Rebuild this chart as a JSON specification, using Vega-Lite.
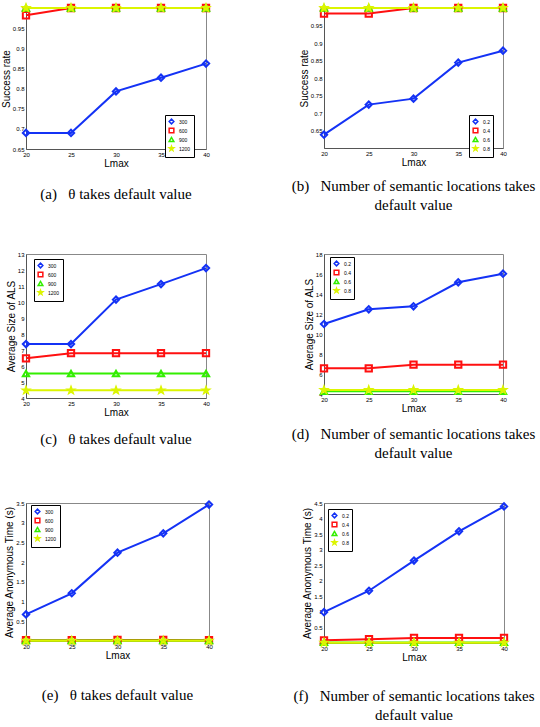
{
  "$schema": "https://vega.github.io/schema/vega-lite/v6.json",
  "background": "white",
  "padding": {"left": 0, "top": 0, "right": 2, "bottom": 2},
  "datasets": {
    "a": [
      {"Lmax": 20, "v": 0.69, "s": "300"}, {"Lmax": 25, "v": 0.69, "s": "300"}, {"Lmax": 30, "v": 0.793, "s": "300"}, {"Lmax": 35, "v": 0.827, "s": "300"}, {"Lmax": 40, "v": 0.862, "s": "300"},
      {"Lmax": 20, "v": 0.982, "s": "600"}, {"Lmax": 25, "v": 1, "s": "600"}, {"Lmax": 30, "v": 1, "s": "600"}, {"Lmax": 35, "v": 1, "s": "600"}, {"Lmax": 40, "v": 1, "s": "600"},
      {"Lmax": 20, "v": 1, "s": "900"}, {"Lmax": 25, "v": 1, "s": "900"}, {"Lmax": 30, "v": 1, "s": "900"}, {"Lmax": 35, "v": 1, "s": "900"}, {"Lmax": 40, "v": 1, "s": "900"},
      {"Lmax": 20, "v": 1, "s": "1200"}, {"Lmax": 25, "v": 1, "s": "1200"}, {"Lmax": 30, "v": 1, "s": "1200"}, {"Lmax": 35, "v": 1, "s": "1200"}, {"Lmax": 40, "v": 1, "s": "1200"}
    ],
    "b": [
      {"Lmax": 20, "v": 0.638, "s": "0.2"}, {"Lmax": 25, "v": 0.724, "s": "0.2"}, {"Lmax": 30, "v": 0.741, "s": "0.2"}, {"Lmax": 35, "v": 0.844, "s": "0.2"}, {"Lmax": 40, "v": 0.878, "s": "0.2"},
      {"Lmax": 20, "v": 0.984, "s": "0.4"}, {"Lmax": 25, "v": 0.984, "s": "0.4"}, {"Lmax": 30, "v": 1, "s": "0.4"}, {"Lmax": 35, "v": 1, "s": "0.4"}, {"Lmax": 40, "v": 1, "s": "0.4"},
      {"Lmax": 20, "v": 1, "s": "0.6"}, {"Lmax": 25, "v": 1, "s": "0.6"}, {"Lmax": 30, "v": 1, "s": "0.6"}, {"Lmax": 35, "v": 1, "s": "0.6"}, {"Lmax": 40, "v": 1, "s": "0.6"},
      {"Lmax": 20, "v": 1, "s": "0.8"}, {"Lmax": 25, "v": 1, "s": "0.8"}, {"Lmax": 30, "v": 1, "s": "0.8"}, {"Lmax": 35, "v": 1, "s": "0.8"}, {"Lmax": 40, "v": 1, "s": "0.8"}
    ],
    "c": [
      {"Lmax": 20, "v": 7.37, "s": "300"}, {"Lmax": 25, "v": 7.37, "s": "300"}, {"Lmax": 30, "v": 10.15, "s": "300"}, {"Lmax": 35, "v": 11.12, "s": "300"}, {"Lmax": 40, "v": 12.12, "s": "300"},
      {"Lmax": 20, "v": 6.48, "s": "600"}, {"Lmax": 25, "v": 6.8, "s": "600"}, {"Lmax": 30, "v": 6.8, "s": "600"}, {"Lmax": 35, "v": 6.8, "s": "600"}, {"Lmax": 40, "v": 6.8, "s": "600"},
      {"Lmax": 20, "v": 5.53, "s": "900"}, {"Lmax": 25, "v": 5.53, "s": "900"}, {"Lmax": 30, "v": 5.53, "s": "900"}, {"Lmax": 35, "v": 5.53, "s": "900"}, {"Lmax": 40, "v": 5.53, "s": "900"},
      {"Lmax": 20, "v": 4.48, "s": "1200"}, {"Lmax": 25, "v": 4.48, "s": "1200"}, {"Lmax": 30, "v": 4.48, "s": "1200"}, {"Lmax": 35, "v": 4.48, "s": "1200"}, {"Lmax": 40, "v": 4.48, "s": "1200"}
    ],
    "d": [
      {"Lmax": 20, "v": 11.0, "s": "0.2"}, {"Lmax": 25, "v": 12.47, "s": "0.2"}, {"Lmax": 30, "v": 12.77, "s": "0.2"}, {"Lmax": 35, "v": 15.17, "s": "0.2"}, {"Lmax": 40, "v": 16.03, "s": "0.2"},
      {"Lmax": 20, "v": 6.57, "s": "0.4"}, {"Lmax": 25, "v": 6.57, "s": "0.4"}, {"Lmax": 30, "v": 6.93, "s": "0.4"}, {"Lmax": 35, "v": 6.93, "s": "0.4"}, {"Lmax": 40, "v": 6.93, "s": "0.4"},
      {"Lmax": 20, "v": 4.27, "s": "0.6"}, {"Lmax": 25, "v": 4.27, "s": "0.6"}, {"Lmax": 30, "v": 4.27, "s": "0.6"}, {"Lmax": 35, "v": 4.27, "s": "0.6"}, {"Lmax": 40, "v": 4.27, "s": "0.6"},
      {"Lmax": 20, "v": 4.4, "s": "0.8"}, {"Lmax": 25, "v": 4.4, "s": "0.8"}, {"Lmax": 30, "v": 4.4, "s": "0.8"}, {"Lmax": 35, "v": 4.4, "s": "0.8"}, {"Lmax": 40, "v": 4.4, "s": "0.8"}
    ],
    "e": [
      {"Lmax": 20, "v": 0.675, "s": "300"}, {"Lmax": 25, "v": 1.21, "s": "300"}, {"Lmax": 30, "v": 2.24, "s": "300"}, {"Lmax": 35, "v": 2.73, "s": "300"}, {"Lmax": 40, "v": 3.46, "s": "300"},
      {"Lmax": 20, "v": 0.02, "s": "600"}, {"Lmax": 25, "v": 0.02, "s": "600"}, {"Lmax": 30, "v": 0.025, "s": "600"}, {"Lmax": 35, "v": 0.025, "s": "600"}, {"Lmax": 40, "v": 0.02, "s": "600"},
      {"Lmax": 20, "v": 0.01, "s": "900"}, {"Lmax": 25, "v": 0.01, "s": "900"}, {"Lmax": 30, "v": 0.01, "s": "900"}, {"Lmax": 35, "v": 0.01, "s": "900"}, {"Lmax": 40, "v": 0.01, "s": "900"},
      {"Lmax": 20, "v": 0.008, "s": "1200"}, {"Lmax": 25, "v": 0.008, "s": "1200"}, {"Lmax": 30, "v": 0.008, "s": "1200"}, {"Lmax": 35, "v": 0.008, "s": "1200"}, {"Lmax": 40, "v": 0.008, "s": "1200"}
    ],
    "f": [
      {"Lmax": 20, "v": 0.99, "s": "0.2"}, {"Lmax": 25, "v": 1.68, "s": "0.2"}, {"Lmax": 30, "v": 2.65, "s": "0.2"}, {"Lmax": 35, "v": 3.59, "s": "0.2"}, {"Lmax": 40, "v": 4.39, "s": "0.2"},
      {"Lmax": 20, "v": 0.086, "s": "0.4"}, {"Lmax": 25, "v": 0.12, "s": "0.4"}, {"Lmax": 30, "v": 0.16, "s": "0.4"}, {"Lmax": 35, "v": 0.16, "s": "0.4"}, {"Lmax": 40, "v": 0.16, "s": "0.4"},
      {"Lmax": 20, "v": 0.02, "s": "0.6"}, {"Lmax": 25, "v": 0.02, "s": "0.6"}, {"Lmax": 30, "v": 0.02, "s": "0.6"}, {"Lmax": 35, "v": 0.02, "s": "0.6"}, {"Lmax": 40, "v": 0.02, "s": "0.6"},
      {"Lmax": 20, "v": 0.01, "s": "0.8"}, {"Lmax": 25, "v": 0.01, "s": "0.8"}, {"Lmax": 30, "v": 0.01, "s": "0.8"}, {"Lmax": 35, "v": 0.01, "s": "0.8"}, {"Lmax": 40, "v": 0.01, "s": "0.8"}
    ]
  },
  "columns": 2,
  "spacing": {"column": 115, "row": 105},
  "bounds": "flush",
  "concat": [
    {
      "width": 180, "height": 141,
      "data": {"name": "a"},
      "title": {"text": "(a) \u00a0 θ takes default value", "orient": "bottom", "offset": 19},
      "encoding": {
        "x": {"field": "Lmax", "type": "quantitative", "scale": {"domain": [20, 40]}, "axis": {"values": [20, 25, 30, 35, 40], "title": "Lmax"}},
        "y": {"field": "v", "type": "quantitative", "scale": {"domain": [0.65, 1]}, "axis": {"values": [0.65, 0.7, 0.75, 0.8, 0.85, 0.9, 0.95, 1], "format": ".2~f", "title": "Success rate"}},
        "color": {"field": "s", "type": "nominal", "sort": null, "scale": {"domain": ["300", "600", "900", "1200"], "range": ["#1432f5", "#ff1010", "#33ee00", "#dcf500"]}, "legend": {"orient": "none", "legendX": 139, "legendY": 107}}
      },
      "layer": [
        {"mark": {"type": "line", "strokeWidth": 2}},
        {"mark": {"type": "point", "filled": false, "size": 40, "strokeWidth": 2, "opacity": 1},
         "encoding": {"shape": {"field": "s", "type": "nominal", "sort": null, "scale": {"domain": ["300", "600", "900", "1200"], "range": ["diamond", "square", "triangle-up", "M0,-1L0.24,-0.33L0.95,-0.31L0.39,0.12L0.59,0.81L0,0.4L-0.59,0.81L-0.39,0.12L-0.95,-0.31L-0.24,-0.33Z"]}, "legend": {"orient": "none", "legendX": 139, "legendY": 107}}}}
      ]
    },
    {
      "width": 179, "height": 140,
      "data": {"name": "b"},
      "title": {"text": ["(b) \u00a0 Number of semantic locations takes", "default value"], "orient": "bottom", "offset": 12},
      "encoding": {
        "x": {"field": "Lmax", "type": "quantitative", "scale": {"domain": [20, 40]}, "axis": {"values": [20, 25, 30, 35, 40], "title": "Lmax"}},
        "y": {"field": "v", "type": "quantitative", "scale": {"domain": [0.6, 1]}, "axis": {"values": [0.65, 0.7, 0.75, 0.8, 0.85, 0.9, 0.95, 1], "format": ".2~f", "title": "Success rate"}},
        "color": {"field": "s", "type": "nominal", "sort": null, "scale": {"domain": ["0.2", "0.4", "0.6", "0.8"], "range": ["#1432f5", "#ff1010", "#33ee00", "#dcf500"]}, "legend": {"orient": "none", "legendX": 145, "legendY": 107}}
      },
      "layer": [
        {"mark": {"type": "line", "strokeWidth": 2}},
        {"mark": {"type": "point", "filled": false, "size": 40, "strokeWidth": 2, "opacity": 1},
         "encoding": {"shape": {"field": "s", "type": "nominal", "sort": null, "scale": {"domain": ["0.2", "0.4", "0.6", "0.8"], "range": ["diamond", "square", "triangle-up", "M0,-1L0.24,-0.33L0.95,-0.31L0.39,0.12L0.59,0.81L0,0.4L-0.59,0.81L-0.39,0.12L-0.95,-0.31L-0.24,-0.33Z"]}, "legend": {"orient": "none", "legendX": 145, "legendY": 107}}}}
      ]
    },
    {
      "width": 180, "height": 144,
      "data": {"name": "c"},
      "title": {"text": "(c) \u00a0 θ takes default value", "orient": "bottom", "offset": 15},
      "encoding": {
        "x": {"field": "Lmax", "type": "quantitative", "scale": {"domain": [20, 40]}, "axis": {"values": [20, 25, 30, 35, 40], "title": "Lmax"}},
        "y": {"field": "v", "type": "quantitative", "scale": {"domain": [4, 13]}, "axis": {"values": [4, 5, 6, 7, 8, 9, 10, 11, 12, 13], "format": "d", "title": "Average Size of ALS"}},
        "color": {"field": "s", "type": "nominal", "sort": null, "scale": {"domain": ["300", "600", "900", "1200"], "range": ["#1432f5", "#ff1010", "#33ee00", "#dcf500"]}, "legend": {"orient": "none", "legendX": 8, "legendY": 5}}
      },
      "layer": [
        {"mark": {"type": "line", "strokeWidth": 2}},
        {"mark": {"type": "point", "filled": false, "size": 40, "strokeWidth": 2, "opacity": 1},
         "encoding": {"shape": {"field": "s", "type": "nominal", "sort": null, "scale": {"domain": ["300", "600", "900", "1200"], "range": ["diamond", "square", "triangle-up", "M0,-1L0.24,-0.33L0.95,-0.31L0.39,0.12L0.59,0.81L0,0.4L-0.59,0.81L-0.39,0.12L-0.95,-0.31L-0.24,-0.33Z"]}, "legend": {"orient": "none", "legendX": 8, "legendY": 5}}}}
      ]
    },
    {
      "width": 179, "height": 140,
      "data": {"name": "d"},
      "title": {"text": ["(d) \u00a0 Number of semantic locations takes", "default value"], "orient": "bottom", "offset": 14},
      "encoding": {
        "x": {"field": "Lmax", "type": "quantitative", "scale": {"domain": [20, 40]}, "axis": {"values": [20, 25, 30, 35, 40], "title": "Lmax"}},
        "y": {"field": "v", "type": "quantitative", "scale": {"domain": [4, 18]}, "axis": {"values": [4, 6, 8, 10, 12, 14, 16, 18], "format": "d", "title": "Average Size of ALS"}},
        "color": {"field": "s", "type": "nominal", "sort": null, "scale": {"domain": ["0.2", "0.4", "0.6", "0.8"], "range": ["#1432f5", "#ff1010", "#33ee00", "#dcf500"]}, "legend": {"orient": "none", "legendX": 6, "legendY": 3}}
      },
      "layer": [
        {"mark": {"type": "line", "strokeWidth": 2}},
        {"mark": {"type": "point", "filled": false, "size": 40, "strokeWidth": 2, "opacity": 1},
         "encoding": {"shape": {"field": "s", "type": "nominal", "sort": null, "scale": {"domain": ["0.2", "0.4", "0.6", "0.8"], "range": ["diamond", "square", "triangle-up", "M0,-1L0.24,-0.33L0.95,-0.31L0.39,0.12L0.59,0.81L0,0.4L-0.59,0.81L-0.39,0.12L-0.95,-0.31L-0.24,-0.33Z"]}, "legend": {"orient": "none", "legendX": 6, "legendY": 3}}}}
      ]
    },
    {
      "width": 183, "height": 138,
      "data": {"name": "e"},
      "title": {"text": "(e) \u00a0 θ takes default value", "orient": "bottom", "offset": 28},
      "encoding": {
        "x": {"field": "Lmax", "type": "quantitative", "scale": {"domain": [20, 40]}, "axis": {"values": [20, 25, 30, 35, 40], "title": "Lmax"}},
        "y": {"field": "v", "type": "quantitative", "scale": {"domain": [0, 3.5]}, "axis": {"values": [0, 0.5, 1, 1.5, 2, 2.5, 3, 3.5], "format": "~g", "title": "Average Anonymous Time (s)"}},
        "color": {"field": "s", "type": "nominal", "sort": null, "scale": {"domain": ["300", "600", "900", "1200"], "range": ["#1432f5", "#ff1010", "#33ee00", "#dcf500"]}, "legend": {"orient": "none", "legendX": 5, "legendY": 2}}
      },
      "layer": [
        {"mark": {"type": "line", "strokeWidth": 2}},
        {"mark": {"type": "point", "filled": false, "size": 40, "strokeWidth": 2, "opacity": 1},
         "encoding": {"shape": {"field": "s", "type": "nominal", "sort": null, "scale": {"domain": ["300", "600", "900", "1200"], "range": ["diamond", "square", "triangle-up", "M0,-1L0.24,-0.33L0.95,-0.31L0.39,0.12L0.59,0.81L0,0.4L-0.59,0.81L-0.39,0.12L-0.95,-0.31L-0.24,-0.33Z"]}, "legend": {"orient": "none", "legendX": 5, "legendY": 2}}}}
      ]
    },
    {
      "width": 180, "height": 140,
      "data": {"name": "f"},
      "title": {"text": ["(f) \u00a0 Number of semantic locations takes", "default value"], "orient": "bottom", "offset": 27},
      "encoding": {
        "x": {"field": "Lmax", "type": "quantitative", "scale": {"domain": [20, 40]}, "axis": {"values": [20, 25, 30, 35, 40], "title": "Lmax"}},
        "y": {"field": "v", "type": "quantitative", "scale": {"domain": [0, 4.5]}, "axis": {"values": [0, 0.5, 1, 1.5, 2, 2.5, 3, 3.5, 4, 4.5], "format": "~g", "title": "Average Anonymous Time (s)"}},
        "color": {"field": "s", "type": "nominal", "sort": null, "scale": {"domain": ["0.2", "0.4", "0.6", "0.8"], "range": ["#1432f5", "#ff1010", "#33ee00", "#dcf500"]}, "legend": {"orient": "none", "legendX": 4, "legendY": 6}}
      },
      "layer": [
        {"mark": {"type": "line", "strokeWidth": 2}},
        {"mark": {"type": "point", "filled": false, "size": 40, "strokeWidth": 2, "opacity": 1},
         "encoding": {"shape": {"field": "s", "type": "nominal", "sort": null, "scale": {"domain": ["0.2", "0.4", "0.6", "0.8"], "range": ["diamond", "square", "triangle-up", "M0,-1L0.24,-0.33L0.95,-0.31L0.39,0.12L0.59,0.81L0,0.4L-0.59,0.81L-0.39,0.12L-0.95,-0.31L-0.24,-0.33Z"]}, "legend": {"orient": "none", "legendX": 4, "legendY": 6}}}}
      ]
    }
  ],
  "resolve": {"scale": {"color": "independent", "shape": "independent", "x": "independent", "y": "independent"}, "legend": {"color": "independent", "shape": "independent"}},
  "config": {
    "view": {"stroke": "#888888", "strokeWidth": 1},
    "style": {"guide-label": {"fontSize": 5}},
    "axis": {"grid": false, "labelFont": "Liberation Sans", "labelFontSize": 6, "labelColor": "black", "titleFont": "Liberation Sans", "titleFontSize": 10, "titleFontWeight": "normal", "titleColor": "black", "domainColor": "#555555", "tickColor": "#555555", "ticks": false, "labelPadding": 2, "titlePadding": 1, "labelFlush": false},
    "legend": {"title": null, "labelFont": "Liberation Sans", "labelFontSize": 5, "labelColor": "black", "strokeColor": "black", "fillColor": "white", "padding": 3, "rowPadding": -6, "symbolSize": 22, "symbolStrokeWidth": 1.5, "labelOffset": 4, "cornerRadius": 0},
    "title": {"font": "Liberation Serif", "fontSize": 15, "fontWeight": "normal", "color": "black", "anchor": "middle", "lineHeight": 19}
  }
}
